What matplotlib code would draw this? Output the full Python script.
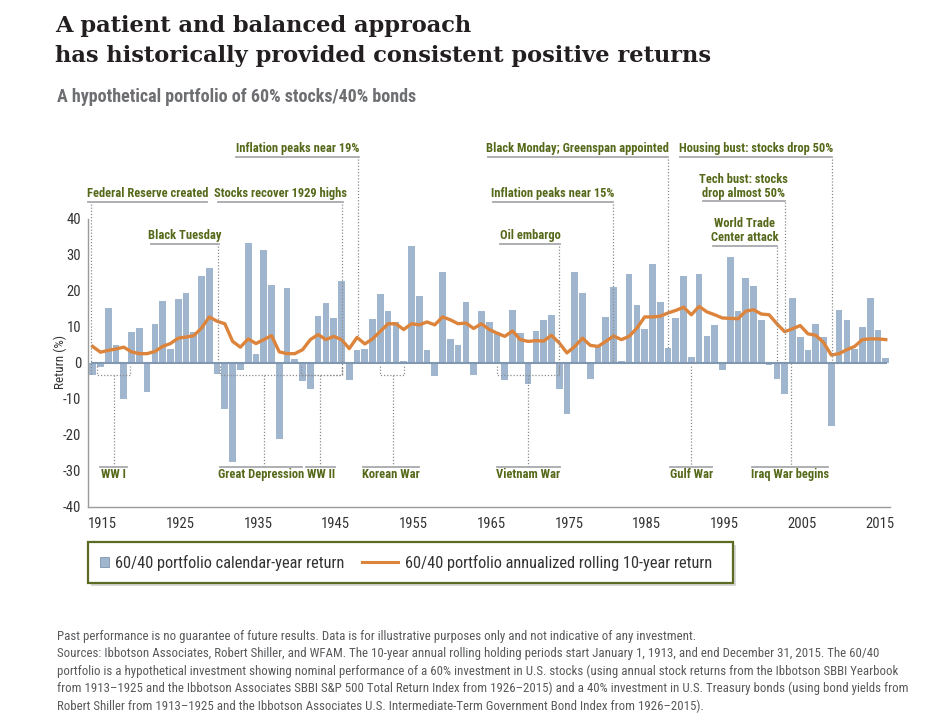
import numpy as np
import matplotlib
matplotlib.use("Agg")
import matplotlib.pyplot as plt
from matplotlib import font_manager
from matplotlib.patches import Rectangle, Patch
from matplotlib.lines import Line2D

# data
years = np.arange(1913, 2016)

calendar_return = [
    -3.3, -1.0, 15.2, 5.0, -9.9, 8.6, 9.8,                          # 1913-1919
    -8.0, 10.7, 17.3, 4.0, 17.8, 19.4, 8.6, 24.2, 26.4, -3.0,       # 1920s
    -12.7, -27.6, -2.0, 33.3, 2.5, 31.5, 21.7, -21.0, 20.9, 1.2,    # 1930s
    -5.0, -7.2, 13.0, 16.6, 12.6, 22.8, -4.6, 3.5, 3.8, 12.2,       # 1940s
    19.1, 14.4, 11.4, 0.6, 32.6, 18.7, 3.5, -3.7, 25.4, 6.8,        # 1950s
    4.9, 16.9, -3.2, 14.4, 11.5, 8.5, -4.6, 14.7, 8.2, -5.8,        # 1960s
    9.0, 11.9, 13.3, -7.2, -14.2, 25.4, 19.4, -4.4, 4.8, 12.7,      # 1970s
    21.0, 0.6, 24.6, 16.2, 9.4, 27.5, 16.9, 4.3, 12.6, 24.3,        # 1980s
    1.7, 24.6, 7.6, 10.5, -1.9, 29.4, 14.4, 23.5, 21.3, 11.9,       # 1990s
    -0.6, -4.4, -8.7, 18.0, 7.2, 3.5, 10.7, 7.2, -17.5, 14.7,       # 2000s
    11.9, 4.0, 10.0, 18.0, 9.3, 1.3,                                # 2010-2015
]

rolling_10yr = [
    4.6, 3.0, 3.5, 3.9, 4.4, 3.1, 2.6,
    2.6, 3.2, 4.6, 5.4, 6.9, 7.2, 7.6, 9.7, 12.8, 11.6,
    10.9, 6.0, 4.4, 6.7, 5.4, 6.5, 7.6, 3.1, 2.6, 2.6,
    3.7, 6.5, 7.9, 6.5, 7.4, 6.5, 4.0, 7.1, 5.3, 6.7,
    8.8, 10.9, 10.9, 9.3, 10.9, 10.6, 11.4, 10.6, 12.8, 12.0,
    10.9, 11.1, 9.6, 10.9, 9.3, 8.3, 7.4, 8.9, 6.5, 6.0,
    6.2, 6.1, 7.7, 5.6, 2.8, 4.6, 6.9, 4.9, 4.6, 6.0,
    7.5, 6.5, 7.4, 9.7, 12.8, 12.8, 13.0, 13.9, 14.6, 15.5,
    13.4, 15.7, 14.2, 13.4, 12.5, 12.4, 12.3, 14.4, 14.8, 13.6,
    13.4, 10.9, 8.7, 9.5, 10.4, 8.1, 7.7, 5.7, 2.2, 2.6,
    3.7, 4.6, 6.5, 6.7, 6.7, 6.5,
]

tick_years = [1915, 1925, 1935, 1945, 1955, 1965, 1975, 1985, 1995, 2005, 2015]
y_ticks = [-40, -30, -20, -10, 0, 10, 20, 30, 40]

# annotations above the plot: text, underline start/end (year), text y, underline y, connector x, connector end
top_notes = [
    ("Federal Reserve created", 1912.4, 1927.7, 47.1, 44.8, 1912.8, -3.2),
    ("Stocks recover 1929 highs", 1929.1, 1945.2, 47.1, 44.8, 1945.06, -3.2),
    ("Inflation peaks near 19%", 1931.4, 1947.25, 59.6, 57.3, 1947.1, 7.1),
    ("Black Tuesday", 1920.5, 1929.25, 35.4, 33.0, 1929.1, 0),
    ("Oil embargo", 1965.4, 1973.1, 35.4, 33.0, 1973.0, -3.2),
    ("Inflation peaks near 15%", 1964.5, 1979.9, 47.1, 44.8, 1979.9, 0),
    ("Black Monday; Greenspan appointed", 1963.8, 1987.0, 59.6, 57.3, 1987.0, 4.3),
    ("Housing bust: stocks drop 50%", 1988.5, 2008.1, 59.6, 57.3, 2008.1, 0),
    ("Tech bust: stocks\ndrop almost 50%", 1991.5, 2002.0, 48.9, 45.1, 2002.0, 0),
    ("World Trade\nCenter attack", 1992.8, 2001.0, 36.9, 32.6, 2001.0, 0),
]

# annotations below: text, underline start/end, connector x, connector start
bottom_notes = [
    ("WW I", 1913.9, 1917.4, 1915.8, -3.2),
    ("Great Depression", 1929.4, 1939.9, 1935.0, -3.2),
    ("WW II", 1940.5, 1944.2, 1942.3, -3.2),
    ("Korean War", 1947.8, 1955.0, 1951.6, -3.2),
    ("Vietnam War", 1965.0, 1973.1, 1969.0, -3.2),
    ("Gulf War", 1987.3, 1992.7, 1990.0, -0.8),
    ("Iraq War begins", 1997.8, 2007.6, 2002.8, 0),
]

# dotted brackets (start, end) for periods
brackets = [(1913.6, 1917.8), (1929.4, 1945.06), (1939.8, 1945.06),
            (1949.9, 1953.0), (1965.0, 1973.0)]

# fonts
names = {f.name for f in font_manager.fontManager.ttflist}
narrow = None
for n in ["Roboto Condensed", "Liberation Sans Narrow", "Open Sans Condensed"]:
    if n in names:
        narrow = n
        break
if narrow:
    plt.rcParams["font.family"] = [narrow, "DejaVu Sans"]
    fs = 1.0
else:
    plt.rcParams["font.family"] = ["DejaVu Sans"]
    plt.rcParams["font.stretch"] = "condensed"
    fs = 0.8
plt.rcParams["axes.unicode_minus"] = False

bar_color = "#a0b6ce"
line_color = "#dd843c"
olive = "#56691a"
grey_line = "#a7a9ac"
dot_color = "#8a8c8f"

fig = plt.figure(figsize=(9.43, 7.2), dpi=100)
ax = fig.add_axes([88 / 943, 1 - 507 / 720, 802 / 943, 288 / 720])

ax.bar(years, calendar_return, width=0.86, color=bar_color, zorder=2)
ax.axhline(0, xmin=0.005, xmax=0.995, color="#8197b0", lw=1.5, zorder=3)
ax.plot(years, rolling_10yr, color=line_color, lw=2.4, zorder=4)

ax.set_xlim(1912.4, 2015.55)
ax.set_ylim(-40, 40)
ax.set_yticks(y_ticks)
ax.set_yticklabels([str(t) for t in y_ticks])
ax.set_xticks([t - 0.75 for t in tick_years])
ax.set_xticklabels([str(t) for t in tick_years])
ax.tick_params(length=0, labelsize=10.5 * fs, colors="#333333")
ax.tick_params(axis="y", pad=5)
ax.tick_params(axis="x", pad=7)
for s in ["top", "right"]:
    ax.spines[s].set_visible(False)
for s in ["left", "bottom"]:
    ax.spines[s].set_color("#9a9a9a")
    ax.spines[s].set_linewidth(1.0)

fig.text(60 / 943, 1 - 362 / 720, "Return (%)", rotation=90, ha="center", va="center",
         fontsize=9.5 * fs, color="#333333")

dot_kw = dict(color=dot_color, lw=0.9, ls=(0, (1, 1.5)), clip_on=False, zorder=5)
ul_kw = dict(color=grey_line, lw=1.3, clip_on=False, zorder=5)
note_fs = 9.0 * fs

for text, x0, x1, ty, uy, cx, cy in top_notes:
    ax.text((x0 + x1) / 2, ty, text, ha="center", va="center", color=olive,
            fontsize=note_fs, fontweight="bold", linespacing=1.1, clip_on=False)
    ax.plot([x0, x1], [uy, uy], **ul_kw)
    ax.plot([cx, cx], [uy - 0.5, cy], **dot_kw)

for text, x0, x1, cx, cy in bottom_notes:
    ax.text((x0 + x1) / 2, -31.1, text, ha="center", va="center", color=olive,
            fontsize=note_fs, fontweight="bold", clip_on=False)
    ax.plot([x0, x1], [-28.8, -28.8], **ul_kw)
    ax.plot([cx, cx], [cy, -28.5], **dot_kw)

for a, b in brackets:
    ax.plot([a, a, b, b], [-0.8, -3.2, -3.2, -0.8], **dot_kw)

# titles
title_kw = dict(ha="left", va="baseline", fontsize=16.2, fontweight="bold",
                family="DejaVu Serif", color="#231f20")
fig.text(55 / 943, 1 - 32 / 720, "A patient and balanced approach", **title_kw)
fig.text(55 / 943, 1 - 62 / 720, "has historically provided consistent positive returns", **title_kw)
fig.text(57 / 943, 1 - 97 / 720, "A hypothetical portfolio of 60% stocks/40% bonds",
         ha="left", va="center", fontsize=12 * fs + 1, fontweight="bold", color="#6d6e71")

# legend box with shadow
box_x0, box_x1 = 88, 733
shadow = Rectangle(((box_x0 + 3) / 943, 1 - 586 / 720), (box_x1 - box_x0) / 943, 41 / 720,
                   transform=fig.transFigure, facecolor="#c8c8c8", edgecolor="none",
                   alpha=0.7, zorder=1)
box = Rectangle((box_x0 / 943, 1 - 583 / 720), (box_x1 - box_x0) / 943, 41 / 720,
                transform=fig.transFigure, facecolor="white", edgecolor="#5b6b22",
                lw=1.6, zorder=2)
fig.patches.extend([shadow, box])
leg_kw = dict(loc="center left", frameon=False, fontsize=11.8 * fs, borderpad=0,
              borderaxespad=0, labelcolor="#333333")
fig.legend([Patch(facecolor=bar_color, edgecolor="#7d93ad", lw=0.6)],
           ["60/40 portfolio calendar-year return"],
           bbox_to_anchor=(100 / 943, 1 - 563 / 720), handlelength=0.55, handleheight=0.55,
           handletextpad=0.35, **leg_kw)
fig.legend([Line2D([0], [0], color=line_color, lw=2.2)],
           ["60/40 portfolio annualized rolling 10-year return"],
           bbox_to_anchor=(362 / 943, 1 - 563 / 720), handlelength=2.2,
           handletextpad=0.45, **leg_kw)

foot = ("Past performance is no guarantee of future results. Data is for illustrative purposes only and not indicative of any investment.\n"
        "Sources: Ibbotson Associates, Robert Shiller, and WFAM. The 10-year annual rolling holding periods start January 1, 1913, and end December 31, 2015. The 60/40\n"
        "portfolio is a hypothetical investment showing nominal performance of a 60% investment in U.S. stocks (using annual stock returns from the Ibbotson SBBI Yearbook\n"
        "from 1913\u20131925 and the Ibbotson Associates SBBI S&P 500 Total Return Index from 1926\u20132015) and a 40% investment in U.S. Treasury bonds (using bond yields from\n"
        "Robert Shiller from 1913\u20131925 and the Ibbotson Associates U.S. Intermediate-Term Government Bond Index from 1926\u20132015).")
fig.text(57 / 943, 1 - 630 / 720, foot, ha="left", va="top", fontsize=9.3 * fs,
         color="#58595b", linespacing=1.41)

fig.savefig("out.png", dpi=100)
